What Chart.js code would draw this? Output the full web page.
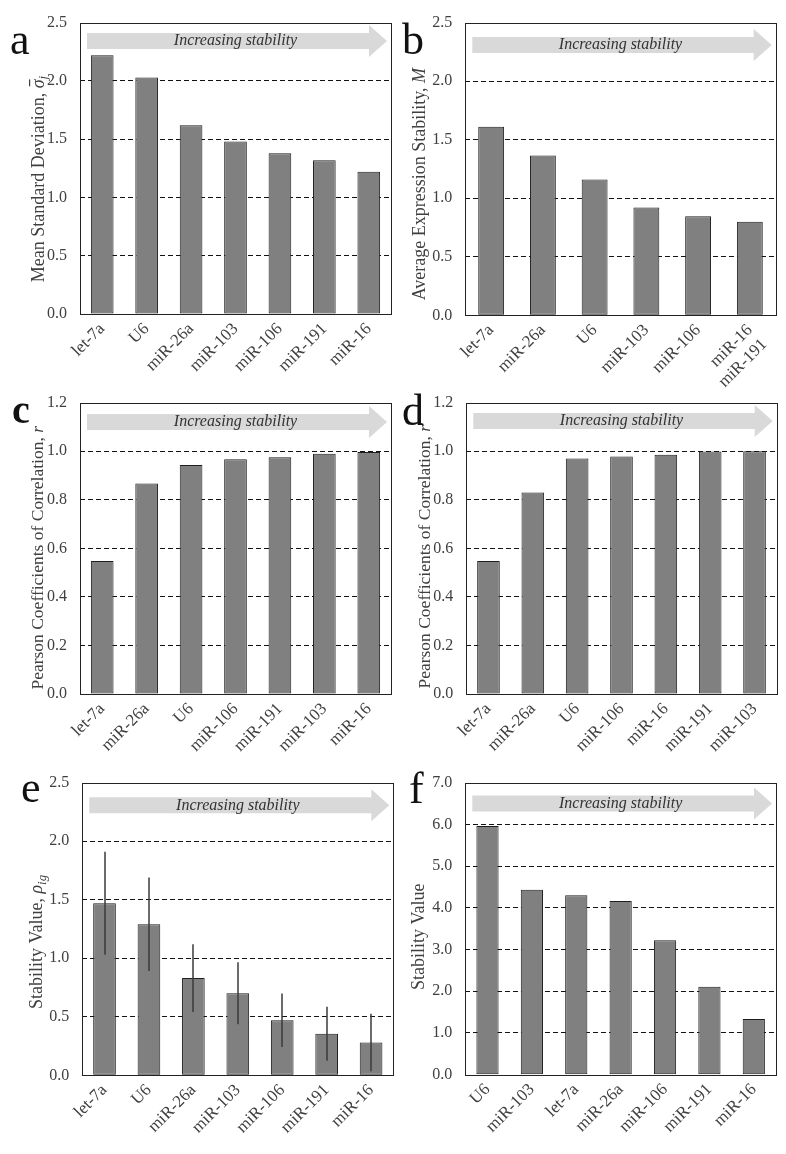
<!DOCTYPE html>
<html><head><meta charset="utf-8">
<script src="https://cdn.jsdelivr.net/npm/chart.js@4"></script>
<style>
html,body{margin:0;padding:0;background:#fff;}
body{width:786px;height:1154px;position:relative;overflow:hidden;}
canvas{position:absolute;}
</style></head><body>
<canvas id="ca" width="400" height="380" style="left:0;top:0"></canvas>
<canvas id="cb" width="386" height="395" style="left:400px;top:0"></canvas>
<canvas id="cc" width="400" height="380" style="left:0;top:380px"></canvas>
<canvas id="cd" width="386" height="380" style="left:400px;top:380px"></canvas>
<canvas id="ce" width="400" height="394" style="left:0;top:760px"></canvas>
<canvas id="cf" width="386" height="394" style="left:400px;top:760px"></canvas>
<script>
// ---- data ----
const catsA = ['let-7a','U6','miR-26a','miR-103','miR-106','miR-191','miR-16'];
const valsA = [2.22,2.03,1.62,1.48,1.38,1.32,1.22];
const catsB = ['let-7a','miR-26a','U6','miR-103','miR-106',['miR-16','miR-191']];
const valsB = [1.61,1.365,1.16,0.92,0.845,0.80];
const catsC = ['let-7a','miR-26a','U6','miR-106','miR-191','miR-103','miR-16'];
const valsC = [0.548,0.867,0.943,0.967,0.975,0.989,0.997];
const catsD = ['let-7a','miR-26a','U6','miR-106','miR-16','miR-191','miR-103'];
const valsD = [0.548,0.83,0.97,0.978,0.985,0.999,1.0];
const catsE = ['let-7a','U6','miR-26a','miR-103','miR-106','miR-191','miR-16'];
const valsE = [1.47,1.29,0.83,0.70,0.47,0.355,0.28];
const errE  = [0.44,0.40,0.29,0.265,0.228,0.23,0.245];
const catsF = ['U6','miR-103','let-7a','miR-26a','miR-106','miR-191','miR-16'];
const valsF = [5.96,4.43,4.30,4.16,3.22,2.11,1.335];

const titleA = [{t:'Mean Standard Deviation, '},{t:'σ',i:1,bar:1},{t:'j',i:1,sub:1}];
const titleB = [{t:'Average Expression Stability, '},{t:'M',i:1}];
const titleC = [{t:'Pearson Coefficients of Correlation, '},{t:'r',i:1}];
const titleD = [{t:'Pearson Coefficients of Correlation, '},{t:'r',i:1}];
const titleE = [{t:'Stability Value, '},{t:'ρ',i:1},{t:'ig',i:1,sub:1}];
const titleF = [{t:'Stability Value'}];
const arrowText = 'Increasing stability';

const SERIF = "'Liberation Serif','Times New Roman',serif";
Chart.defaults.font.family = SERIF;
Chart.defaults.color = '#404040';

const deco = {
  id:'deco',
  afterDatasetsDraw(chart, args, o){
    if(!o.err) return;
    const ctx = chart.ctx, ys = chart.scales.y, meta = chart.getDatasetMeta(0);
    const vals = chart.data.datasets[0].data;
    ctx.save(); ctx.strokeStyle = '#3a3a3a'; ctx.lineWidth = 1.5;
    meta.data.forEach((bar,i)=>{
      const x = Math.round(bar.x);
      ctx.beginPath();
      ctx.moveTo(x, ys.getPixelForValue(vals[i]+o.err[i]));
      ctx.lineTo(x, ys.getPixelForValue(vals[i]-o.err[i]));
      ctx.stroke();
    });
    ctx.restore();
  },
  afterDraw(chart, args, o){
    const ctx = chart.ctx, a = chart.chartArea;
    ctx.save();
    // frame
    ctx.strokeStyle = '#222'; ctx.lineWidth = 1;
    const l = Math.round(a.left), t = Math.round(a.top), r = Math.round(a.right), b = Math.round(a.bottom);
    ctx.strokeRect(l+0.5, t+0.5, r-l, b-t);
    // arrow
    const cy = a.top + o.arrowDy;
    const x0 = a.left + 7, xt = a.right - 4, xh = xt - 18;
    ctx.fillStyle = '#d9d9d9';
    ctx.beginPath();
    ctx.moveTo(x0, cy-8); ctx.lineTo(xh, cy-8); ctx.lineTo(xh, cy-16); ctx.lineTo(xt, cy);
    ctx.lineTo(xh, cy+16); ctx.lineTo(xh, cy+8); ctx.lineTo(x0, cy+8); ctx.closePath(); ctx.fill();
    ctx.fillStyle = '#333';
    ctx.font = 'italic 16px ' + SERIF;
    ctx.textAlign = 'center'; ctx.textBaseline = 'middle';
    ctx.fillText(arrowText, (a.left + a.right)/2, cy);
    // panel letter
    ctx.textAlign = 'left'; ctx.textBaseline = 'alphabetic';
    ctx.fillStyle = '#111';
    ctx.font = (o.bold ? 'bold ' : '') + o.lsize + 'px ' + SERIF;
    ctx.fillText(o.letter, o.lx, o.ly);
    // y title
    const size = o.tsize || 18, sub = 13;
    ctx.fillStyle = '#404040';
    const fontOf = s => (s.i ? 'italic ' : '') + (s.sub ? sub : size) + 'px ' + SERIF;
    let total = 0;
    const ws = o.title.map(s => { ctx.font = fontOf(s); const w = ctx.measureText(s.t).width; total += w; return w; });
    ctx.translate(a.left + o.tdx, (a.top + a.bottom)/2 + o.tdy);
    ctx.rotate(-Math.PI/2);
    ctx.textAlign = 'left'; ctx.textBaseline = 'middle';
    let x = -total/2;
    o.title.forEach((s,k)=>{
      ctx.font = fontOf(s);
      const yy = s.sub ? 5 : 0;
      ctx.fillText(s.t, x, yy);
      if (s.bar) { ctx.fillRect(x+2, -10, ws[k]-2, 1.2); }
      x += ws[k];
    });
    ctx.restore();
  }
};

function make(id, cats, vals, ymax, step, yW, top, right, xH, pct, d){
  return new Chart(document.getElementById(id), {
    type:'bar',
    data:{labels:cats, datasets:[{data:vals, backgroundColor:'#808080', borderColor:'#1e1e1e', borderWidth:1, borderSkipped:false, barPercentage:pct, categoryPercentage:1}]},
    options:{
      responsive:false, animation:false, devicePixelRatio:1,
      layout:{padding:{top:top, right:right, left:0, bottom:0}},
      plugins:{legend:{display:false}, tooltip:{enabled:false}, deco:d},
      scales:{
        x:{grid:{display:false, drawTicks:false}, border:{display:false},
           ticks:{maxRotation:45, minRotation:45, autoSkip:false, padding:5, font:{size:17}, color:'#404040'},
           afterFit:s=>{s.height = xH;}},
        y:{min:0, max:ymax,
           ticks:{stepSize:step, padding:13, font:{size:16}, color:'#404040', callback:v=>Number(v).toFixed(1)},
           grid:{drawTicks:false, lineWidth:1,
                 color:c=> (c.index===0 || Math.abs(c.tick.value-ymax)<1e-9) ? 'rgba(0,0,0,0)' : '#111'},
           border:{display:false, dash:[5,3]},
           afterFit:s=>{s.width = yW;}}
      }
    },
    plugins:[deco]
  });
}

make('ca', catsA, valsA, 2.5, 0.5, 80,   18,   9,    66,   0.51, {letter:'a', lx:10, ly:54, lsize:44, arrowDy:18.5, title:titleA, tdx:-41, tdy:10.7});
make('cb', catsB, valsB, 2.5, 0.5, 65.3, 19.3, 10.3, 79.7, 0.5,  {letter:'b', lx:2, ly:54.3, lsize:44, arrowDy:22.4, title:titleB, tdx:-44.8, tdy:15.2});
make('cc', catsC, valsC, 1.2, 0.2, 80,   19,   9,    66,   0.51, {letter:'c', lx:12, ly:43.3, lsize:40, bold:1, arrowDy:19.3, title:titleC, tdx:-41.5, tdy:9.5, tsize:17.5});
make('cd', catsD, valsD, 1.2, 0.2, 66.3, 19,   9.3,  66,   0.51, {letter:'d', lx:2, ly:45, lsize:44, arrowDy:18.5, title:titleD, tdx:-41.3, tdy:8.5, tsize:17.5});
make('ce', catsE, valsE, 2.5, 0.5, 82.3, 19,   6.7,  78.7, 0.51, {letter:'e', lx:21, ly:41.7, lsize:44, arrowDy:22.7, title:titleE, tdx:-44.8, tdy:13, err:errE});
make('cf', catsF, valsF, 7,   1,   65.3, 19.3, 10,   79.3, 0.5,  {letter:'f', lx:9, ly:43.3, lsize:44, arrowDy:21, title:titleF, tdx:-46.3, tdy:8});
</script>
</body></html>
